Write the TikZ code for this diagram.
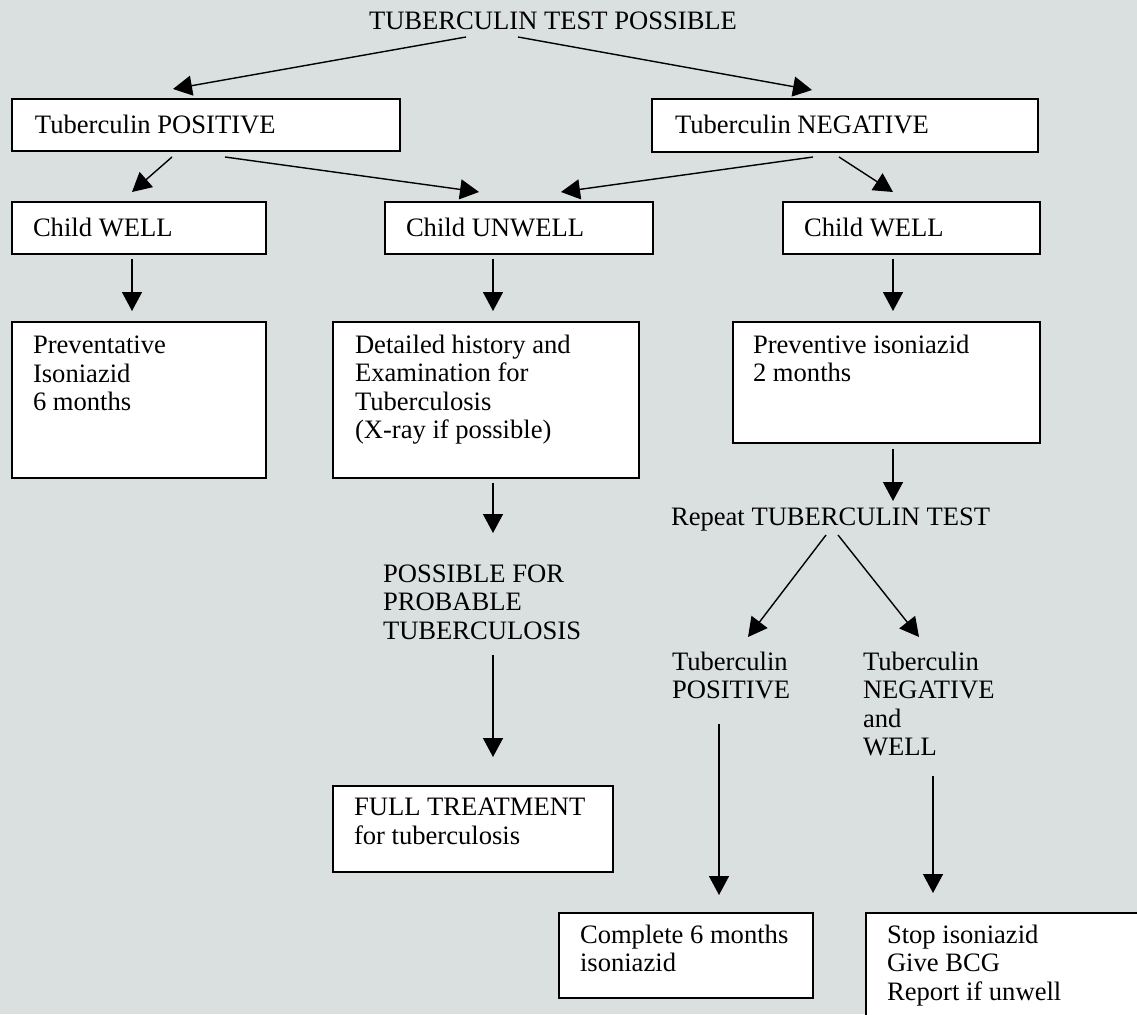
\documentclass[tikz,border=0pt]{standalone}
\usepackage{fontspec}
\setmainfont{Liberation Serif}
\usetikzlibrary{arrows.meta}
\definecolor{bgc}{RGB}{218,223,223}
% box text: width, height, left pad, top pad, text
\newcommand{\bxt}[5]{\parbox[c][#2pt][t]{#1pt}{\raggedright\leftskip=#3pt\relax\vspace*{#4pt}#5\par}}
\newcommand{\mlt}[2]{\parbox[t]{#1pt}{\raggedright #2}}
\begin{document}
\begin{tikzpicture}[x=1pt,y=-1pt,
  font=\fontsize{26.6}{28.5}\selectfont,
  box/.style={draw, fill=white, line width=1.6pt, anchor=north west, inner sep=0pt, outer sep=0pt},
  txt/.style={anchor=base west, inner sep=0pt, outer sep=0pt},
  arr/.style={line width=1.4pt, -{Triangle[length=19pt,width=20pt]}}]
\useasboundingbox (0,0) rectangle (1137,1014);
\fill[bgc] (0,0) rectangle (1137,1014);
\clip (0,0) rectangle (1137,1014);

\node[txt, anchor=base] (title) at (553,30) {TUBERCULIN TEST POSSIBLE};

\node[box] (posA) at (12,99) {\bxt{388}{52}{23}{16}{Tuberculin POSITIVE}};
\node[box] (negA) at (652,99) {\bxt{386}{53}{23}{16}{Tuberculin NEGATIVE}};

\node[box] (wellL) at (12,202) {\bxt{254}{52}{21}{16}{Child WELL}};
\node[box] (unwell) at (385,202) {\bxt{268}{52}{21}{16}{Child UNWELL}};
\node[box] (wellR) at (783,202) {\bxt{257}{52}{21}{16}{Child WELL}};

\node[box] (prevL) at (12,322) {\bxt{254}{156}{21}{14}{Preventative\\Isoniazid\\6 months}};
\node[box] (detail) at (333,322) {\bxt{306}{156}{22}{13}{Detailed history and\\Examination for\\Tuberculosis\\(X-ray if possible)}};
\node[box] (prevR) at (733,322) {\bxt{307}{121}{20}{13}{Preventive isoniazid\\2 months}};

\node[txt] (rep) at (671,525) {Repeat TUBERCULIN TEST};
\node[txt] (possible) at (383,582) {\mlt{300}{POSSIBLE FOR\\PROBABLE\\TUBERCULOSIS}};
\node[txt] (tpos) at (672,670) {\mlt{140}{Tuberculin\\POSITIVE}};
\node[txt] (tneg) at (863,670) {\mlt{170}{Tuberculin\\NEGATIVE\\and\\WELL}};

\node[box] (full) at (333,786) {\bxt{280}{86}{21}{12}{FULL TREATMENT\\for tuberculosis}};
\node[box] (complete) at (559,913) {\bxt{254}{85}{21}{12}{Complete 6 months\\isoniazid}};
\node[box] (stop) at (866,913) {\bxt{300}{120}{21}{12}{Stop isoniazid\\Give BCG\\Report if unwell}};

\draw[arr] ([shift={(-87,7)}]title.base) -- ([shift={(-33,-10)}]posA.north);
\draw[arr] ([shift={(-35,7)}]title.base) -- ([shift={(-33,-9)}]negA.north);
\draw[arr] ([shift={(-34,6)}]posA.south) -- ([shift={(-7,-10)}]wellL.north);
\draw[arr] ([shift={(19,6)}]posA.south) -- ([shift={(-40,-10)}]unwell.north);
\draw[arr] ([shift={(-32,5)}]negA.south) -- ([shift={(42,-10)}]unwell.north);
\draw[arr] ([shift={(-6,5)}]negA.south) -- ([shift={(-18.5,-10)}]wellR.north);
\draw[arr] ([shift={(-7,5)}]wellL.south) -- ([shift={(-7,-11)}]prevL.north);
\draw[arr] ([shift={(-26,5)}]unwell.south) -- ([shift={(7,-11)}]detail.north);
\draw[arr] ([shift={(-18.5,5)}]wellR.south) -- ([shift={(6.5,-11)}]prevR.north);
\draw[arr] ([shift={(7,5)}]detail.south) -- ([shift={(110,-49)}]possible.base west);
\draw[arr] ([shift={(110,73)}]possible.base west) -- ([shift={(20,-29)}]full.north);
\draw[arr] ([shift={(6.5,6)}]prevR.south) -- ([shift={(222,-24)}]rep.base west);
\draw[arr] ([shift={(155,10)}]rep.base west) -- ([shift={(76,-33)}]tpos.base west);
\draw[arr] ([shift={(167,10)}]rep.base west) -- ([shift={(56,-33)}]tneg.base west);
\draw[arr] ([shift={(47,54)}]tpos.base west) -- ([shift={(33,-18)}]complete.north);
\draw[arr] ([shift={(70,106)}]tneg.base west) -- ([shift={(67,-20)}]stop.north west);
\end{tikzpicture}
\end{document}
